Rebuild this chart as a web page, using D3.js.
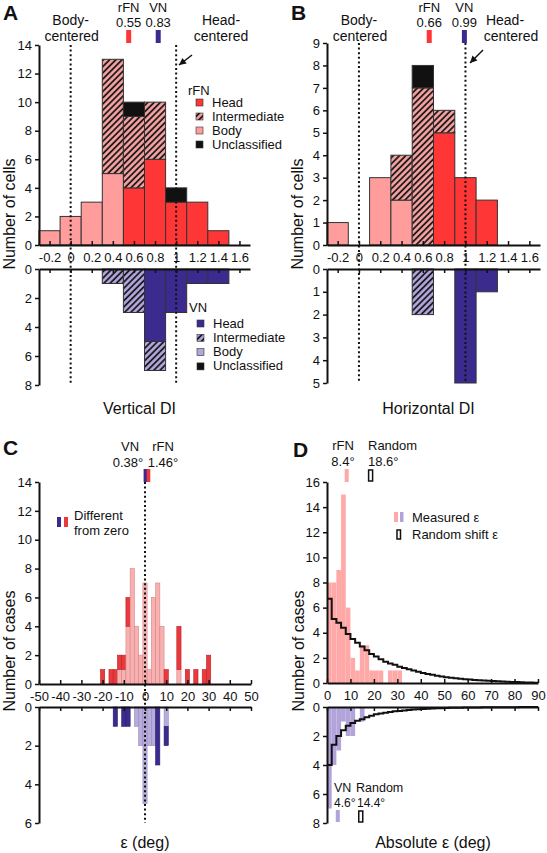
<!DOCTYPE html>
<html><head><meta charset="utf-8">
<script src="https://cdn.jsdelivr.net/npm/d3@7"></script>
<style>
body{margin:0;background:#fff;}
svg text{font-family:"Liberation Sans",Arial,Helvetica,sans-serif;fill:#111;}
</style></head><body>
<svg id="fig" width="547" height="853"></svg>
<script>
// ================= DATA =================
// Panels A & B: DI histograms (bin centres, width 0.2)
const diBins = [-0.2, 0, 0.2, 0.4, 0.6, 0.8, 1.0, 1.2, 1.4];
const diTicks = [-0.2, 0, 0.2, 0.4, 0.6, 0.8, 1, 1.2, 1.4, 1.6];
const diTickLabels = ["-0.2", "0", "0.2", "0.4", "0.6", "0.8", "1", "1.2", "1.4", "1.6"];
const cellTypes = ["Head", "Intermediate", "Body", "Unclassified"];

// A: Vertical DI
const vertRfnHead  = [0, 0, 0, 0, 4, 6, 3, 3, 1];
const vertRfnBody  = [1, 2, 3, 5, 0, 0, 0, 0, 0];
const vertRfnInter = [0, 0, 0, 8, 5, 4, 0, 0, 0];
const vertRfnUncl  = [0, 0, 0, 0, 1, 0, 1, 0, 0];
const vertVnHead   = [0, 0, 0, 0, 0, 5, 3, 1, 1];
const vertVnBody   = [0, 0, 0, 0, 0, 0, 0, 0, 0];
const vertVnInter  = [0, 0, 0, 1, 3, 2, 0, 0, 0];
const vertVnUncl   = [0, 0, 0, 0, 0, 0, 0, 0, 0];
const vertMeans = {rFN: 0.55, VN: 0.83};

// B: Horizontal DI
const horRfnHead  = [0, 0, 0, 0, 0, 5, 3, 2, 0];
const horRfnBody  = [1, 0, 3, 2, 0, 0, 0, 0, 0];
const horRfnInter = [0, 0, 0, 2, 7, 1, 0, 0, 0];
const horRfnUncl  = [0, 0, 0, 0, 1, 0, 0, 0, 0];
const horVnHead   = [0, 0, 0, 0, 0, 0, 5, 1, 0];
const horVnBody   = [0, 0, 0, 0, 0, 0, 0, 0, 0];
const horVnInter  = [0, 0, 0, 0, 2, 0, 0, 0, 0];
const horVnUncl   = [0, 0, 0, 0, 0, 0, 0, 0, 0];
const horMeans = {rFN: 0.66, VN: 0.99};

// C: epsilon histograms (bin centres, width 2 deg)
const epsRfnBins = [-20, -16, -14, -12, -10, -8, -6, -4, -2, 0, 2, 4, 6, 8, 10, 16, 20, 24, 28, 30];
const epsRfnNotDiff = [0, 0, 0, 1, 1, 4, 8, 4, 2, 7, 1, 6, 7, 4, 0, 1, 0, 0, 0, 0];
const epsRfnDiff    = [1, 1, 1, 1, 1, 2, 0, 0, 0, 0, 0, 0, 0, 0, 1, 3, 1, 1, 1, 2];
const epsVnBins = [-14, -10, -8, -4, -2, 0, 2, 4, 6, 10];
const epsVnNotDiff = [0, 0, 0, 1, 2, 5, 2, 2, 0, 1];
const epsVnDiff    = [1, 1, 1, 0, 0, 0, 0, 0, 3, 1];
const epsMeans = {VN: 0.38, rFN: 1.46};
const epsTicks = [-50, -40, -30, -20, -10, 0, 10, 20, 30, 40, 50];

// D: absolute epsilon (bin starts, width 2 deg)
const absBinStarts = [0, 2, 4, 6, 8, 10, 12, 14, 16, 18, 20, 22, 24, 26, 28, 30];
const absRfnMeasured = [8, 8, 9, 15, 6, 2, 1, 3, 3, 1, 1, 1, 0, 1, 1, 1];
const absVnMeasured  = [7, 4, 3, 1, 2, 2, 0, 1, 0, 0, 0, 0, 0, 0, 0, 0];
const absRfnRandom = [6.7, 5.1, 4.8, 4.4, 3.9, 3.5, 3.2, 2.9, 2.6, 2.3, 2.1, 1.9, 1.7, 1.55, 1.45,
  1.3, 1.2, 1.1, 1.0, 0.9, 0.8, 0.72, 0.65, 0.58, 0.52, 0.46, 0.42, 0.38, 0.34, 0.3,
  0.27, 0.24, 0.21, 0.19, 0.17, 0.15, 0.13, 0.12, 0.1, 0.08, 0.07, 0.05, 0.04, 0.03, 0.02];
const absVnRandom = [4.0, 2.6, 2.0, 1.6, 1.3, 1.1, 0.95, 0.85, 0.7, 0.6, 0.5, 0.45, 0.4, 0.35, 0.3,
  0.27, 0.24, 0.2, 0.18, 0.16, 0.14, 0.12, 0.1, 0.09, 0.08, 0.07, 0.06, 0.05, 0.05, 0.04,
  0.04, 0.03, 0.03, 0.02, 0.02, 0.02, 0.01, 0.01, 0.01, 0.01, 0.01, 0, 0, 0, 0];
const absMeans = {rFN: 8.4, rFNRandom: 18.6, VN: 4.6, VNRandom: 14.4};
const absTicks = [0, 10, 20, 30, 40, 50, 60, 70, 80, 90];

// ================= STYLE =================
const C = {
  rHead: "#ff3636", rBody: "#ff9d9d", vHead: "#3b2b8e", vBody: "#b3a6dc", uncl: "#111",
  cRed: "#ea383c", cPink: "#f7b1b1", cDark: "#3b2b8e", cLav: "#b8acda",
  dPink: "#ffa8a8", dLav: "#b2a4da"
};
const FONT = '"Liberation Sans",Arial,Helvetica,sans-serif';
const fmtInt = d3.format("d");

const svg = d3.select("#fig");
const defs = svg.append("defs");
function hatch(id, bg) {
  const p = defs.append("pattern").attr("id", id).attr("patternUnits", "userSpaceOnUse")
    .attr("width", 4.4).attr("height", 4.4).attr("patternTransform", "rotate(45)");
  p.append("rect").attr("width", 4.4).attr("height", 4.4).attr("fill", bg);
  p.append("line").attr("x1", 1).attr("x2", 1).attr("y1", 0).attr("y2", 4.4)
    .attr("stroke", "#111").attr("stroke-width", 1.7);
}
hatch("hatchR", "#f6a2a2");
hatch("hatchV", "#b3a6dc");

function styleAxis(g) {
  g.attr("font-family", FONT).attr("font-size", 13);
  g.select(".domain").attr("stroke", "#111").attr("stroke-width", 2);
  g.selectAll(".tick line").attr("stroke", "#111").attr("stroke-width", 1.5);
  g.selectAll(".tick text").attr("fill", "#111");
}
function text(x, y, s, opts = {}) {
  return svg.append("text").attr("x", x).attr("y", y).text(s)
    .attr("font-size", opts.size || 14)
    .attr("text-anchor", opts.anchor || "middle")
    .attr("font-weight", opts.weight || "normal");
}
function vlabel(x, y, s) {
  svg.append("text").attr("transform", `translate(${x},${y}) rotate(-90)`)
    .attr("text-anchor", "middle").attr("font-size", 16).text(s);
}
function dotted(x, y1, y2) {
  svg.append("line").attr("x1", x).attr("x2", x).attr("y1", y1).attr("y2", y2)
    .attr("stroke", "#111").attr("stroke-width", 2).attr("stroke-dasharray", "2,2.6");
}
function arrow(x1, y1, x2, y2) {
  svg.append("line").attr("x1", x1).attr("y1", y1).attr("x2", x2).attr("y2", y2)
    .attr("stroke", "#111").attr("stroke-width", 1.5);
  const a = Math.atan2(y2 - y1, x2 - x1), L = 7, W = 3.5;
  const p = [[x2, y2],
    [x2 - L * Math.cos(a) + W * Math.sin(a), y2 - L * Math.sin(a) - W * Math.cos(a)],
    [x2 - L * Math.cos(a) - W * Math.sin(a), y2 - L * Math.sin(a) + W * Math.cos(a)]];
  svg.append("path").attr("d", "M" + p.join("L") + "Z").attr("fill", "#111");
}

// ================= PANELS A & B =================
function diPanel(cfg) {
  const x = d3.scaleLinear().domain([-0.3, 1.7]).range([cfg.x0, cfg.x1]);
  const yT = d3.scaleLinear().domain([0, cfg.topMax]).range([cfg.topBase, cfg.topTop]);
  const yB = d3.scaleLinear().domain([0, cfg.botMax]).range([cfg.botBase, cfg.botEnd]);
  const half = 0.1;

  function stacks(layers, fills, y) {
    diBins.forEach((c, i) => {
      let cum = 0;
      layers.forEach((arr, k) => {
        const v = arr[i];
        if (v > 0) {
          const ya = y(cum), yb = y(cum + v);
          svg.append("rect").attr("x", x(c - half)).attr("width", x(c + half) - x(c - half))
            .attr("y", Math.min(ya, yb)).attr("height", Math.abs(yb - ya))
            .attr("fill", fills[k]).attr("stroke", "#333").attr("stroke-width", 1);
          cum += v;
        }
      });
    });
  }
  // stacking order from axis: Head, Body, Intermediate, Unclassified
  stacks([cfg.rHead, cfg.rBody, cfg.rInter, cfg.rUncl], [C.rHead, C.rBody, "url(#hatchR)", C.uncl], yT);
  stacks([cfg.vHead, cfg.vBody, cfg.vInter, cfg.vUncl], [C.vHead, C.vBody, "url(#hatchV)", C.uncl], yB);

  dotted(x(0), cfg.topTop, cfg.botEnd);
  dotted(x(1), cfg.topTop, cfg.botEnd);

  styleAxis(svg.append("g").attr("transform", `translate(${cfg.x0},0)`)
    .call(d3.axisLeft(yT).tickValues(cfg.topTicks).tickSize(4).tickSizeOuter(0).tickPadding(3).tickFormat(fmtInt)));
  styleAxis(svg.append("g").attr("transform", `translate(${cfg.x0},0)`)
    .call(d3.axisLeft(yB).tickValues(cfg.botTicks).tickSize(4).tickSizeOuter(0).tickPadding(3).tickFormat(fmtInt)));
  styleAxis(svg.append("g").attr("transform", `translate(0,${cfg.topBase})`)
    .call(d3.axisBottom(x).tickValues(diTicks).tickSizeInner(-4).tickSizeOuter(0).tickPadding(8)
      .tickFormat((d, i) => diTickLabels[i])));
  styleAxis(svg.append("g").attr("transform", `translate(0,${cfg.botBase})`)
    .call(d3.axisBottom(x).tickValues(diTicks).tickSize(4).tickSizeOuter(0).tickFormat("")));

  // means markers
  text(x(cfg.means.rFN), 12, "rFN", {size: 13});
  text(x(cfg.means.rFN), 27, cfg.means.rFN.toFixed(2), {size: 13});
  text(x(cfg.means.VN), 12, "VN", {size: 13});
  text(x(cfg.means.VN), 27, cfg.means.VN.toFixed(2), {size: 13});
  svg.append("rect").attr("x", x(cfg.means.rFN) - 2.5).attr("y", 30).attr("width", 5).attr("height", 13).attr("fill", C.rHead);
  svg.append("rect").attr("x", x(cfg.means.VN) - 2.5).attr("y", 30).attr("width", 5).attr("height", 13).attr("fill", C.vHead);

  text(x(0), 25, "Body-");
  text(x(0) + 1, 41, "centered");
  text(cfg.headX, 25, "Head-");
  text(cfg.headX2, 41, "centered");
  arrow(cfg.arrow[0], cfg.arrow[1], cfg.arrow[2], cfg.arrow[3]);

  text((cfg.x0 + cfg.x1) / 2 - 5, 414, cfg.title, {size: 16});
  vlabel(cfg.x0 - 24, 214, "Number of cells");
  text(cfg.x0 - 36, 20, cfg.letter, {size: 21, weight: "bold", anchor: "start"});
}

diPanel({x0: 39, x1: 250, topBase: 245, topTop: 45, topMax: 14, topTicks: [0, 2, 4, 6, 8, 10, 12, 14],
  botBase: 269, botEnd: 385, botMax: 8, botTicks: [0, 2, 4, 6, 8],
  rHead: vertRfnHead, rBody: vertRfnBody, rInter: vertRfnInter, rUncl: vertRfnUncl,
  vHead: vertVnHead, vBody: vertVnBody, vInter: vertVnInter, vUncl: vertVnUncl,
  means: vertMeans, headX: 221, headX2: 221, arrow: [192, 55, 179, 65],
  title: "Vertical DI", letter: "A"});

diPanel({x0: 327, x1: 540, topBase: 245, topTop: 43, topMax: 9, topTicks: [0, 1, 2, 3, 4, 5, 6, 7, 8, 9],
  botBase: 269, botEnd: 383, botMax: 5, botTicks: [0, 1, 2, 3, 4, 5],
  rHead: horRfnHead, rBody: horRfnBody, rInter: horRfnInter, rUncl: horRfnUncl,
  vHead: horVnHead, vBody: horVnBody, vInter: horVnInter, vUncl: horVnUncl,
  means: horMeans, headX: 505, headX2: 511, arrow: [483, 50, 470, 63],
  title: "Horizontal DI", letter: "B"});

// legends for A
function diLegend(x0, yTitle, title, fills, yFirst, step) {
  text(x0 - 8, yTitle, title, {size: 13, anchor: "start"});
  cellTypes.forEach((t, i) => {
    svg.append("rect").attr("x", x0).attr("y", yFirst + i * step).attr("width", 7).attr("height", 7)
      .attr("fill", fills[i]).attr("stroke", "#333").attr("stroke-width", 0.6);
    text(x0 + 16, yFirst + i * step + 7.5, t, {size: 13, anchor: "start"});
  });
}
diLegend(196, 95, "rFN", [C.rHead, "url(#hatchR)", C.rBody, C.uncl], 99, 14);
diLegend(197, 312, "VN", [C.vHead, "url(#hatchV)", C.vBody, C.uncl], 320, 14.3);

// ================= PANEL C =================
(function () {
  const x = d3.scaleLinear().domain([-50, 50]).range([39, 251]);
  const yT = d3.scaleLinear().domain([0, 14]).range([684, 482]);
  const yB = d3.scaleLinear().domain([0, 6]).range([707, 823]);
  function bars(bins, layers, fills, strokes, y) {
    bins.forEach((c, i) => {
      let cum = 0;
      layers.forEach((arr, k) => {
        const v = arr[i];
        if (v > 0) {
          const ya = y(cum), yb = y(cum + v);
          svg.append("rect").attr("x", x(c - 1)).attr("width", x(c + 1) - x(c - 1))
            .attr("y", Math.min(ya, yb)).attr("height", Math.abs(yb - ya))
            .attr("fill", fills[k]).attr("stroke", strokes[k]).attr("stroke-width", 0.6);
          cum += v;
        }
      });
    });
  }
  bars(epsRfnBins, [epsRfnNotDiff, epsRfnDiff], [C.cPink, C.cRed], ["#d98585", "#b52428"], yT);
  bars(epsVnBins, [epsVnNotDiff, epsVnDiff], [C.cLav, C.cDark], ["#968ac4", "#2a1f6a"], yB);

  dotted(x(0), 482, 823);

  styleAxis(svg.append("g").attr("transform", "translate(39,0)")
    .call(d3.axisLeft(yT).tickValues([0, 2, 4, 6, 8, 10, 12, 14]).tickSize(4).tickSizeOuter(0).tickPadding(3).tickFormat(fmtInt)));
  styleAxis(svg.append("g").attr("transform", "translate(39,0)")
    .call(d3.axisLeft(yB).tickValues([0, 2, 4, 6]).tickSize(4).tickSizeOuter(0).tickPadding(3).tickFormat(fmtInt)));
  styleAxis(svg.append("g").attr("transform", "translate(0,684)")
    .call(d3.axisBottom(x).tickValues(epsTicks).tickSizeInner(-4).tickSizeOuter(0).tickPadding(8)
      .tickFormat(d => String(d))));
  styleAxis(svg.append("g").attr("transform", "translate(0,707)")
    .call(d3.axisBottom(x).tickValues(epsTicks).tickSize(4).tickSizeOuter(0).tickFormat("")));

  svg.append("rect").attr("x", x(epsMeans.VN) - 2.2).attr("y", 469).attr("width", 3.6).attr("height", 13).attr("fill", C.cDark);
  svg.append("rect").attr("x", x(epsMeans.rFN) - 1.4).attr("y", 469).attr("width", 3.6).attr("height", 13).attr("fill", C.cRed);
  text(130, 451, "VN", {size: 13});
  text(128, 467, epsMeans.VN.toFixed(2) + "°", {size: 13});
  text(163, 451, "rFN", {size: 13});
  text(163, 467, epsMeans.rFN.toFixed(2) + "°", {size: 13});

  svg.append("rect").attr("x", 57).attr("y", 517).attr("width", 4).attr("height", 10).attr("fill", C.cDark);
  svg.append("rect").attr("x", 64).attr("y", 517).attr("width", 4).attr("height", 10).attr("fill", C.cRed);
  text(74, 520, "Different", {size: 13, anchor: "start"});
  text(74, 535, "from zero", {size: 13, anchor: "start"});

  text(145, 848, "ε (deg)", {size: 16});
  vlabel(15, 651, "Number of cases");
  text(3, 455, "C", {size: 21, weight: "bold", anchor: "start"});
})();

// ================= PANEL D =================
(function () {
  const x = d3.scaleLinear().domain([0, 90]).range([327, 538]);
  const yT = d3.scaleLinear().domain([0, 16]).range([683, 482]);
  const yB = d3.scaleLinear().domain([0, 8]).range([707, 823]);
  const bw = 2;
  function bars(vals, fill, y) {
    absBinStarts.forEach((s, i) => {
      const v = vals[i];
      if (v > 0) {
        const ya = y(0), yb = y(v);
        svg.append("rect").attr("x", x(s)).attr("width", x(s + bw) - x(s))
          .attr("y", Math.min(ya, yb)).attr("height", Math.abs(yb - ya)).attr("fill", fill);
      }
    });
  }
  bars(absRfnMeasured, C.dPink, yT);
  bars(absVnMeasured, C.dLav, yB);

  function stepLine(vals, y) {
    const pts = vals.map((v, i) => [i * bw, v]);
    pts.push([90, vals[vals.length - 1]]);
    const line = d3.line().x(d => x(d[0])).y(d => y(d[1])).curve(d3.curveStepAfter);
    svg.append("path").attr("d", line(pts)).attr("fill", "none").attr("stroke", "#111").attr("stroke-width", 2);
  }
  stepLine(absRfnRandom, yT);
  stepLine(absVnRandom, yB);

  styleAxis(svg.append("g").attr("transform", "translate(327,0)")
    .call(d3.axisLeft(yT).tickValues([0, 2, 4, 6, 8, 10, 12, 14, 16]).tickSize(4).tickSizeOuter(0).tickPadding(3).tickFormat(fmtInt)));
  styleAxis(svg.append("g").attr("transform", "translate(327,0)")
    .call(d3.axisLeft(yB).tickValues([0, 2, 4, 6, 8]).tickSize(4).tickSizeOuter(0).tickPadding(3).tickFormat(fmtInt)));
  styleAxis(svg.append("g").attr("transform", "translate(0,683)")
    .call(d3.axisBottom(x).tickValues(absTicks).tickSizeInner(-4).tickSizeOuter(0).tickPadding(8)
      .tickFormat(d => String(d))));
  styleAxis(svg.append("g").attr("transform", "translate(0,707)")
    .call(d3.axisBottom(x).tickValues(absTicks).tickSize(4).tickSizeOuter(0).tickFormat("")));

  // mean markers top
  text(343, 450, "rFN", {size: 13});
  text(343, 466, absMeans.rFN.toFixed(1) + "°", {size: 13});
  text(368, 450, "Random", {size: 13, anchor: "start"});
  text(368, 466, absMeans.rFNRandom.toFixed(1) + "°", {size: 13, anchor: "start"});
  svg.append("rect").attr("x", x(absMeans.rFN) - 2).attr("y", 469).attr("width", 4).attr("height", 13).attr("fill", C.dPink);
  svg.append("rect").attr("x", x(absMeans.rFNRandom) - 2).attr("y", 470).attr("width", 4).attr("height", 11)
    .attr("fill", "#fff").attr("stroke", "#111").attr("stroke-width", 1.5);
  // mean markers bottom
  text(334, 792, "VN", {size: 12.5, anchor: "start"});
  text(356, 792, "Random", {size: 12.5, anchor: "start"});
  text(334, 807, absMeans.VN.toFixed(1) + "°", {size: 12, anchor: "start"});
  text(357, 807, absMeans.VNRandom.toFixed(1) + "°", {size: 12, anchor: "start"});
  svg.append("rect").attr("x", x(absMeans.VN) - 2).attr("y", 810).attr("width", 4).attr("height", 12).attr("fill", C.dLav);
  svg.append("rect").attr("x", x(absMeans.VNRandom) - 2).attr("y", 811).attr("width", 4).attr("height", 11)
    .attr("fill", "#fff").attr("stroke", "#111").attr("stroke-width", 1.5);

  // legend
  svg.append("rect").attr("x", 394).attr("y", 512).attr("width", 4).attr("height", 10).attr("fill", C.dPink);
  svg.append("rect").attr("x", 400).attr("y", 512).attr("width", 3.5).attr("height", 10).attr("fill", C.dLav);
  text(412, 522, "Measured ε", {size: 13, anchor: "start"});
  svg.append("rect").attr("x", 397).attr("y", 530).attr("width", 3.5).attr("height", 9)
    .attr("fill", "#fff").attr("stroke", "#111").attr("stroke-width", 1.5);
  text(412, 539, "Random shift ε", {size: 13, anchor: "start"});

  text(433, 848, "Absolute ε (deg)", {size: 16});
  vlabel(304, 651, "Number of cases");
  text(293, 457, "D", {size: 21, weight: "bold", anchor: "start"});
})();
</script>
</body></html>
